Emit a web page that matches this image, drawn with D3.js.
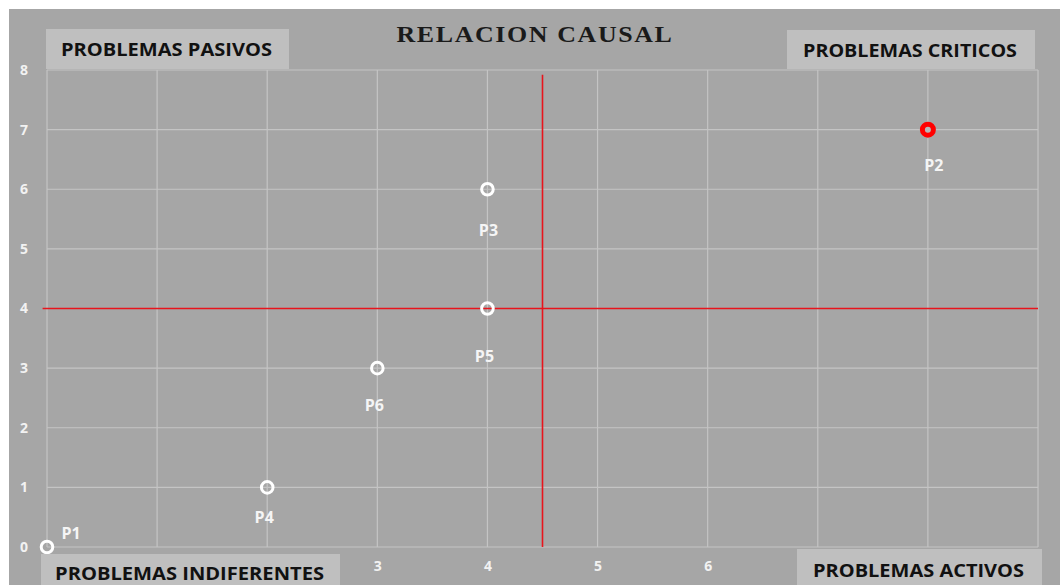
<!DOCTYPE html>
<html>
<head>
<meta charset="utf-8">
<script src="https://cdn.jsdelivr.net/npm/d3@7/dist/d3.min.js"></script>
<style>
  body { margin: 0; background: #fff; }
  svg { display: block; }
</style>
</head>
<body>
<svg id="chart" width="1060" height="585"></svg>
<script>
// chart values
const labels = ['P1', 'P2', 'P3', 'P4', 'P5', 'P6']
const xValues = [0, 8, 4, 2, 4, 3]
const yValues = [0, 7, 6, 1, 4, 3]
const critical = ['P2']
const xTicks = [0, 1, 2, 3, 4, 5, 6, 7, 8, 9]
const xTickLabels = [3, 4, 5, 6]   // the others sit under the quadrant boxes
const yTicks = [0, 1, 2, 3, 4, 5, 6, 7, 8]
const xCut = 4.5
const yCut = 4
const quadrants = ['PROBLEMAS PASIVOS', 'PROBLEMAS CRITICOS', 'PROBLEMAS INDIFERENTES', 'PROBLEMAS ACTIVOS']

// hand placed data labels (dx, dy in px from the marker)
const labelDx = [24, 6, 1, -3, -3, -3]
const labelDy = [-8, 41, 47, 36, 53, 43]

const svg = d3.select('#chart')
const margin = { top: 70, left: 47 }

// grey chart background
svg.append('rect')
    .attr('x', 9).attr('y', 9)
    .attr('width', 1051).attr('height', 576)
    .attr('fill', '#a6a6a6')

const g = svg.append('g')
    .attr('transform', 'translate(' + margin.left + ',' + margin.top + ')')

const xScale = d3.scaleLinear().domain([0, 9]).range([0, 991])
const yScale = d3.scaleLinear().domain([0, 8]).range([477, 0])

// grid lines
g.selectAll('.vgrid').data(xTicks).enter().append('line')
    .attr('class', 'vgrid')
    .attr('x1', d => xScale(d)).attr('x2', d => xScale(d))
    .attr('y1', yScale(0)).attr('y2', yScale(8))
    .attr('stroke', '#c4c4c4').attr('stroke-width', 1.2)

g.selectAll('.hgrid').data(yTicks).enter().append('line')
    .attr('class', 'hgrid')
    .attr('x1', xScale(0)).attr('x2', xScale(9))
    .attr('y1', d => yScale(d)).attr('y2', d => yScale(d))
    .attr('stroke', '#c4c4c4').attr('stroke-width', 1.2)

// axes (text only, excel style)
const yAxis = d3.axisLeft(yScale).tickValues(yTicks).tickSize(0).tickPadding(23)
const yAxisG = g.append('g').call(yAxis)
yAxisG.select('.domain').remove()
yAxisG.selectAll('text')
    .style('font-family', 'Open Sans, sans-serif')
    .style('font-size', '14px')
    .style('font-weight', 'bold')
    .attr('fill', '#f2f2f2')
    .attr('text-anchor', 'middle')

const xAxis = d3.axisBottom(xScale).tickValues(xTickLabels).tickSize(0).tickPadding(14)
const xAxisG = g.append('g')
    .attr('transform', 'translate(0,' + yScale(0) + ')')
    .call(xAxis)
xAxisG.select('.domain').remove()
xAxisG.selectAll('text')
    .style('font-family', 'Open Sans, sans-serif')
    .style('font-size', '14px')
    .style('font-weight', 'bold')
    .attr('fill', '#f2f2f2')

// red cut lines
g.append('line')
    .attr('x1', xScale(-0.04)).attr('x2', xScale(9))
    .attr('y1', yScale(yCut)).attr('y2', yScale(yCut))
    .attr('stroke', '#e8141c').attr('stroke-width', 1.6)

g.append('line')
    .attr('x1', xScale(xCut)).attr('x2', xScale(xCut))
    .attr('y1', yScale(0)).attr('y2', yScale(7.92))
    .attr('stroke', '#e8141c').attr('stroke-width', 1.6)

// points
let points = labels.map((d, i) => ({ label: d, x: xValues[i], y: yValues[i], dx: labelDx[i], dy: labelDy[i] }))

g.selectAll('.pt').data(points).enter().append('circle')
    .attr('class', 'pt')
    .attr('cx', d => xScale(d.x))
    .attr('cy', d => yScale(d.y))
    .attr('r', d => critical.includes(d.label) ? 5.5 : 5.8)
    .attr('fill', d => critical.includes(d.label) ? '#b8b8b8' : 'none')
    .attr('stroke', d => critical.includes(d.label) ? '#ff0000' : '#ffffff')
    .attr('stroke-width', d => critical.includes(d.label) ? 5 : 3)

g.selectAll('.ptLabel').data(points).enter().append('text')
    .attr('class', 'ptLabel')
    .attr('x', d => xScale(d.x) + d.dx)
    .attr('y', d => yScale(d.y) + d.dy)
    .attr('text-anchor', 'middle')
    .style('font-family', 'Open Sans, sans-serif')
    .style('font-size', '16px')
    .style('font-weight', 'bold')
    .attr('fill', '#f5f5f5')
    .text(d => d.label)

// quadrant label boxes
const boxes = [
    { x: 46, y: 29, w: 243, h: 40, tw: 211, base: 56 },
    { x: 787, y: 30, w: 248, h: 39, tw: 214, base: 57 },
    { x: 41, y: 554, w: 299, h: 31, tw: 269, base: 580 },
    { x: 797, y: 549, w: 245, h: 36, tw: 211, base: 577 }
]
boxes.forEach((b, i) => {
    svg.append('rect')
        .attr('x', b.x).attr('y', b.y)
        .attr('width', b.w).attr('height', b.h)
        .attr('fill', '#bfbfbf')
    svg.append('text')
        .attr('x', b.x + b.w / 2 - 1)
        .attr('y', b.base)
        .attr('text-anchor', 'middle')
        .attr('textLength', b.tw)
        .attr('lengthAdjust', 'spacingAndGlyphs')
        .style('font-family', 'Open Sans, sans-serif')
        .style('font-size', '17px')
        .style('font-weight', 'bold')
        .attr('fill', '#111')
        .text(quadrants[i])
})

// title
svg.append('text')
    .attr('x', 535)
    .attr('y', 42)
    .attr('text-anchor', 'middle')
    .attr('textLength', 277)
    .attr('lengthAdjust', 'spacingAndGlyphs')
    .style('font-family', 'Liberation Serif, serif')
    .style('font-size', '24px')
    .style('letter-spacing', '1.5px')
    .style('font-weight', 'bold')
    .attr('fill', '#1a1a1a')
    .text('RELACION CAUSAL')
</script>
</body>
</html>
